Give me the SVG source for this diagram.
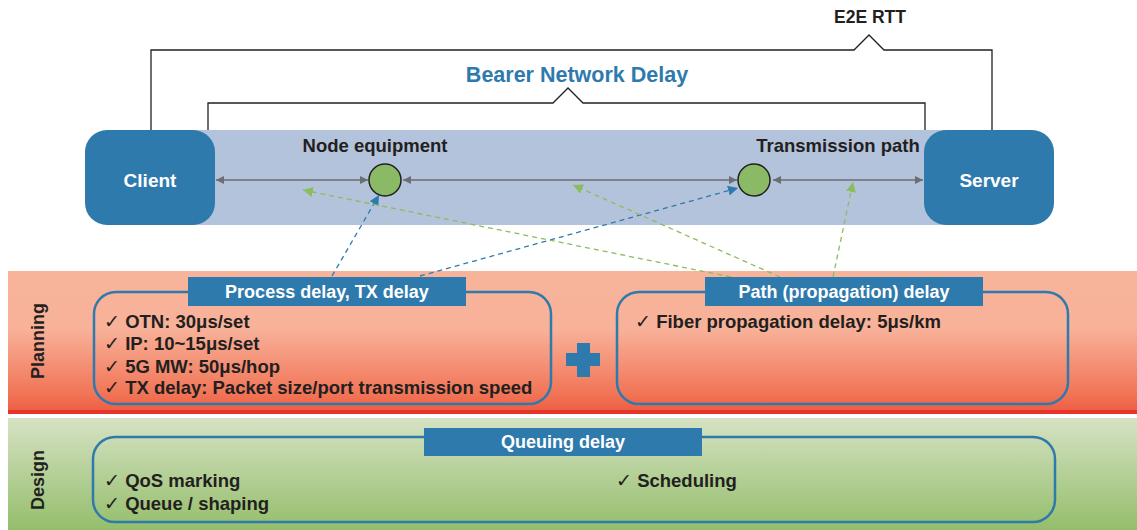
<svg xmlns="http://www.w3.org/2000/svg" width="1137" height="530" viewBox="0 0 1137 530">
<style>
.t{font-family:"Liberation Sans",Arial,sans-serif;font-weight:bold}
.ck{font-weight:normal}
.dark{fill:#231f20}
.white{fill:#ffffff}
.box{fill:none;stroke:#2f7aad;stroke-width:2.5}
.lbl{fill:#2f7aad}
.brk{fill:none;stroke:#231f20;stroke-width:1.3}
.harrow{stroke:#6d6e71;stroke-width:1.5;fill:none}
.bdash{stroke:#2f7aad;stroke-width:1.3;stroke-dasharray:5 4;fill:none}
.gdash{stroke:#8bbd5e;stroke-width:1.3;stroke-dasharray:5 4;fill:none}
.node{fill:#8bba66;stroke:#231f20;stroke-width:1.5}
</style>
<defs>
<linearGradient id="gPlan" x1="0" y1="0" x2="0" y2="1">
<stop offset="0" stop-color="#f8b39b"/>
<stop offset="0.4" stop-color="#f8b29a"/>
<stop offset="0.85" stop-color="#f17658"/>
<stop offset="1" stop-color="#ee5a40"/>
</linearGradient>
<linearGradient id="gDes" x1="0" y1="0" x2="0" y2="1">
<stop offset="0" stop-color="#d6e2c4"/>
<stop offset="1" stop-color="#94be6b"/>
</linearGradient>
<marker id="mGray" viewBox="0 0 10 10" refX="10" refY="5" markerWidth="8" markerHeight="8" markerUnits="userSpaceOnUse" orient="auto-start-reverse">
<path d="M0,0 L10,5 L0,10 z" fill="#6d6e71"/>
</marker>
<marker id="mBlue" viewBox="0 0 10 10" refX="10" refY="5" markerWidth="10" markerHeight="10" markerUnits="userSpaceOnUse" orient="auto">
<path d="M0,0 L10,5 L0,10 z" fill="#2f7aad"/>
</marker>
<marker id="mGreen" viewBox="0 0 10 10" refX="10" refY="5" markerWidth="10" markerHeight="10" markerUnits="userSpaceOnUse" orient="auto">
<path d="M0,0 L10,5 L0,10 z" fill="#8bbd5e"/>
</marker>
</defs>
<rect width="1137" height="530" fill="#ffffff"/>

<!-- Bands -->
<g id="planning-band">
<rect x="8" y="271" width="1129" height="143" fill="url(#gPlan)"/>
<rect x="8" y="410" width="1129" height="4" fill="#e8352b"/>
<text class="t dark" font-size="18" transform="translate(44,341) rotate(-90)" text-anchor="middle">Planning</text>
</g>
<g id="design-band">
<rect x="8" y="418" width="1129" height="112" fill="url(#gDes)"/>
<text class="t dark" font-size="18" transform="translate(44,480) rotate(-90)" text-anchor="middle">Design</text>
</g>

<!-- Bearer band -->
<g id="bearer">
<rect x="150" y="130" width="840" height="95" fill="#b3c3dc"/>
</g>

<!-- Brackets -->
<g id="e2e-rtt">
<path class="brk" d="M151,130 V50 H854 L869,35 L884,50 H992 V130"/>
<text class="t dark" font-size="17.5" x="870" y="23" text-anchor="middle">E2E RTT</text>
</g>
<g id="bearer-delay">
<path class="brk" d="M208,130 V103 H553 L568,88 L583,103 H925 V130"/>
<text class="t" font-size="21.5" x="577" y="82" text-anchor="middle" fill="#2f7aad">Bearer Network Delay</text>
</g>

<g id="client">
<rect x="85" y="130" width="130" height="95" rx="22" fill="#2f7aad"/>
<text class="t white" font-size="19" x="150" y="187" text-anchor="middle">Client</text>
</g>
<g id="server">
<rect x="924" y="130" width="130" height="95" rx="22" fill="#2f7aad"/>
<text class="t white" font-size="19" x="989" y="187" text-anchor="middle">Server</text>
</g>

<g id="node-equipment">
<circle class="node" cx="385" cy="180" r="16"/>
<text class="t dark" font-size="18.5" x="375" y="152" text-anchor="middle">Node equipment</text>
</g>
<g id="transmission-path">
<circle class="node" cx="754" cy="180" r="16"/>
<text class="t dark" font-size="18.5" x="838" y="152" text-anchor="middle">Transmission path</text>
</g>

<!-- Connectors -->
<g id="connectors">
<line class="harrow" x1="216" y1="180" x2="368" y2="180" marker-start="url(#mGray)" marker-end="url(#mGray)"/>
<line class="harrow" x1="403" y1="180" x2="737" y2="180" marker-start="url(#mGray)" marker-end="url(#mGray)"/>
<line class="harrow" x1="773" y1="180" x2="923" y2="180" marker-start="url(#mGray)" marker-end="url(#mGray)"/>
<line class="bdash" x1="332" y1="276" x2="379" y2="195" marker-end="url(#mBlue)"/>
<line class="bdash" x1="420" y1="276" x2="738" y2="188" marker-end="url(#mBlue)"/>
<line class="gdash" x1="731" y1="277" x2="303" y2="190" marker-end="url(#mGreen)"/>
<line class="gdash" x1="780" y1="277" x2="573" y2="185" marker-end="url(#mGreen)"/>
<line class="gdash" x1="833" y1="277" x2="853" y2="182" marker-end="url(#mGreen)"/>
</g>

<g id="process-delay">
<rect class="box" x="94" y="292" width="457" height="112" rx="22"/>
<rect class="lbl" x="188" y="277" width="278" height="29"/>
<text class="t white" font-size="18" x="327" y="298" text-anchor="middle">Process delay, TX delay</text>
<text class="t dark" font-size="18.5" x="104" y="328"><tspan class="ck">✓</tspan> OTN: 30μs/set</text>
<text class="t dark" font-size="18.5" x="104" y="350"><tspan class="ck">✓</tspan> IP: 10~15μs/set</text>
<text class="t dark" font-size="18.5" x="104" y="373"><tspan class="ck">✓</tspan> 5G MW: 50μs/hop</text>
<text class="t dark" font-size="18.5" x="104" y="394"><tspan class="ck">✓</tspan> TX delay: Packet size/port transmission speed</text>
</g>

<g id="plus">
<rect x="566" y="353" width="34" height="13" fill="#2f7aad"/>
<rect x="577" y="343" width="13" height="34" fill="#2f7aad"/>
</g>

<g id="path-delay">
<rect class="box" x="617" y="292" width="451" height="112" rx="22"/>
<rect class="lbl" x="705" y="277" width="278" height="29"/>
<text class="t white" font-size="18" x="844" y="298" text-anchor="middle">Path (propagation) delay</text>
<text class="t dark" font-size="18.5" x="635" y="328"><tspan class="ck">✓</tspan> Fiber propagation delay: 5μs/km</text>
</g>

<g id="queuing-delay">
<rect class="box" x="93" y="437" width="962" height="85" rx="22"/>
<rect class="lbl" x="424" y="428" width="278" height="28"/>
<text class="t white" font-size="18" x="563" y="448" text-anchor="middle">Queuing delay</text>
<text class="t dark" font-size="18.5" x="104" y="487"><tspan class="ck">✓</tspan> QoS marking</text>
<text class="t dark" font-size="18.5" x="104" y="510"><tspan class="ck">✓</tspan> Queue / shaping</text>
<text class="t dark" font-size="18.5" x="616" y="487"><tspan class="ck">✓</tspan> Scheduling</text>
</g>
</svg>
